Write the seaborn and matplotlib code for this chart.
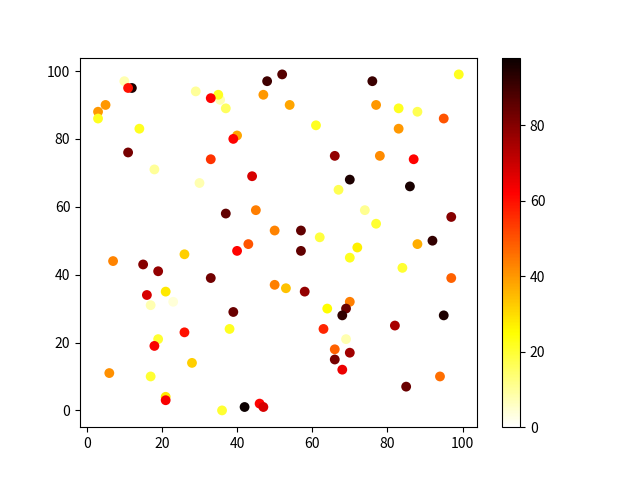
import matplotlib
matplotlib.use("Agg")
import matplotlib.pyplot as plt
import seaborn as sns
import pandas as pd

# point positions and colour values
xs = [3, 3, 5, 10, 12, 11, 14, 11, 18, 29, 35.5, 35, 33, 37, 40, 39, 33,
      48, 52, 47, 54, 61, 76, 77, 83, 88, 83, 95, 99, 66, 78, 87, 67, 70,
      86, 74, 77, 97, 92, 88, 72, 70, 84, 97, 95, 82, 70, 69, 68, 69, 67.5,
      70, 66, 66, 68, 63, 64, 85, 94, 62, 57, 57, 58, 50, 53, 50, 45, 43,
      40, 44, 37, 26, 7, 15, 19, 16, 21, 17, 23, 33, 39, 38, 26, 19, 18,
      28, 17, 6, 21, 21, 36, 42, 46, 47, 30]
ys = [88, 86, 90, 97, 95, 95, 83, 76, 71, 94, 91.5, 93, 92, 89, 81, 80, 74,
      97, 99, 93, 90, 84, 97, 90, 89, 88, 83, 86, 99, 75, 75, 74, 65, 68,
      66, 59, 55, 57, 50, 49, 48, 45, 42, 39, 28, 25, 32, 30, 28, 21, 17,
      17, 18, 15, 12, 24, 30, 7, 10, 51, 53, 47, 35, 37, 36, 53, 59, 49,
      47, 69, 58, 46, 44, 43, 41, 34, 35, 31, 32, 39, 29, 24, 23, 21, 19,
      14, 10, 11, 4, 3, 0, 1, 2, 1, 67]
cs = [40, 22, 40, 8, 95, 60, 22, 82, 10, 10, 8, 22, 62, 16, 38, 62, 55,
      90, 87, 40, 38, 22, 91, 40, 22, 17, 40, 50, 22, 78, 42, 62, 17, 95,
      96, 11, 20, 80, 92, 37, 27, 22, 20, 48, 95, 75, 44, 84, 92, 8, 0,
      76, 48, 82, 65, 57, 25, 84, 46, 19, 85, 85, 78, 44, 34, 43, 44, 50,
      62, 68, 85, 32, 43, 80, 78, 68, 28, 8, 4, 83, 84, 22, 60, 20, 63,
      32, 20, 41, 28, 63, 20, 98, 62, 68, 8]

df = pd.DataFrame({"x": xs, "y": ys, "c": cs})

plt.rcParams["font.family"] = ["Noto Sans CJK SC", "DejaVu Sans"]

fig, ax = plt.subplots(figsize=(6.4, 4.8), dpi=100)
sns.scatterplot(data=df, x="x", y="y", hue="c", palette="hot_r",
                hue_norm=(0, 98), s=50, linewidth=0, legend=False, ax=ax)
ax.set_xlabel("")
ax.set_ylabel("")

sm = plt.cm.ScalarMappable(cmap="hot_r", norm=plt.Normalize(0, 98))
fig.colorbar(sm, ax=ax)

fig.savefig("out.png", dpi=100)
